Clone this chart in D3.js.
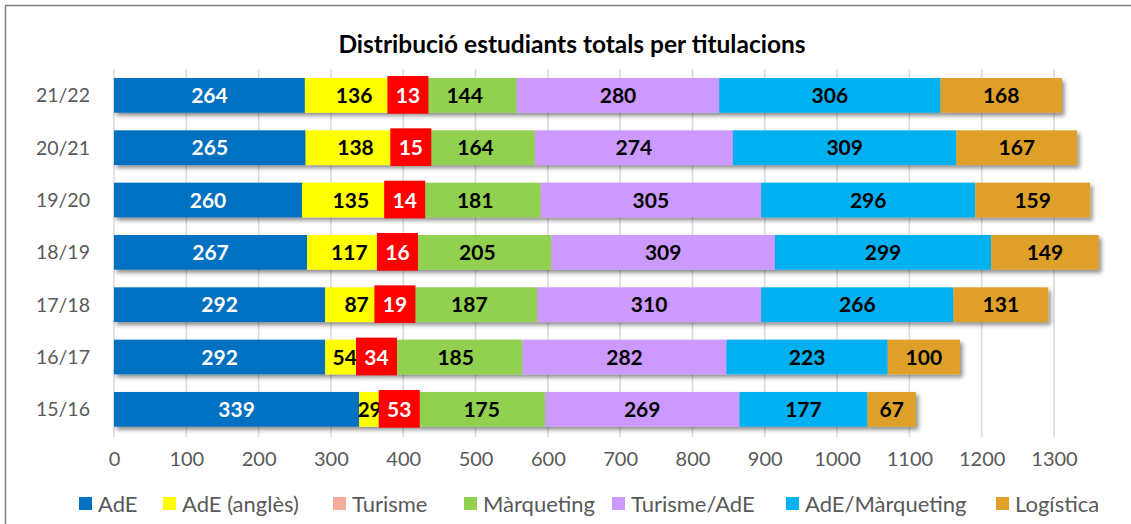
<!DOCTYPE html>
<html><head><meta charset="utf-8">
<script src="https://cdn.jsdelivr.net/npm/d3@7"></script>
<style>html,body{margin:0;padding:0;background:#fff;}svg{display:block;}</style>
</head><body>
<svg id="c" width="1131" height="524"></svg>
<script>
const years = ["21/22","20/21","19/20","18/19","17/18","16/17","15/16"];
const seriesNames = ["AdE","AdE (anglès)","Turisme","Màrqueting","Turisme/AdE","AdE/Màrqueting","Logística"];
const adE        = [264,265,260,267,292,292,339];
const adEAngles  = [136,138,135,117,87,54,29];
const turisme    = [13,15,14,16,19,34,53];
const marqueting = [144,164,181,205,187,185,175];
const turismeAdE = [280,274,305,309,310,282,269];
const adEMarq    = [306,309,296,299,266,223,177];
const logistica  = [168,167,159,149,131,100,67];
const xTicks = [0,100,200,300,400,500,600,700,800,900,1000,1100,1200,1300];

const seriesValues = [adE, adEAngles, turisme, marqueting, turismeAdE, adEMarq, logistica];
const colors = ["#0070C0","#FFFF00","#F2AE9A","#92D050","#CC99FF","#00B0F0","#DFA02A"];
const labelColors = ["#fff","#000","#fff","#000","#000","#000","#000"];

const svg = d3.select("#c");
const defs = svg.append("defs");
const f = defs.append("filter").attr("id","sh").attr("x","-5%").attr("y","-30%").attr("width","115%").attr("height","180%");
f.append("feDropShadow").attr("dx",2.5).attr("dy",3).attr("stdDeviation",2).attr("flood-color","#000").attr("flood-opacity",0.45);

// chart border
svg.append("rect").attr("x",5.5).attr("y",5.5).attr("width",1140).attr("height",540)
  .attr("fill","none").attr("stroke","#7f7f7f").attr("stroke-width",1.5);

const font = "Lato, 'Open Sans', sans-serif";

svg.append("text").attr("x",572).attr("y",53).attr("text-anchor","middle")
  .attr("font-family",font).attr("font-weight","bold").attr("font-size",24.5).attr("fill","#000")
  .text("Distribució estudiants totals per titulacions");

const x = d3.scaleLinear().domain([0,1300]).range([114,1054]);
const y = d3.scaleBand().domain(years).range([69.2,435.5]).paddingInner(0.337).paddingOuter(0.1685);

// gridlines
svg.append("g").selectAll("line").data(xTicks).join("line")
  .attr("x1",d=>x(d)).attr("x2",d=>x(d)).attr("y1",69).attr("y2",437)
  .attr("stroke","#d9d9d9").attr("stroke-width",1.5);

// stack
const rows = years.map((yr,i)=>{ const o={year:yr}; seriesNames.forEach((s,j)=>o[s]=seriesValues[j][i]); return o; });
const stack = d3.stack().keys(seriesNames)(rows);

const barsG = svg.append("g").attr("filter","url(#sh)");
stack.forEach((layer,j)=>{
  barsG.selectAll(null).data(layer).join("rect")
    .attr("x",d=>x(d[0])).attr("width",d=>x(d[1])-x(d[0]))
    .attr("y",d=>y(d.data.year)).attr("height",y.bandwidth())
    .attr("fill",colors[j]);
});

// labels
const lg = svg.append("g").attr("font-family",font).attr("font-weight","bold").attr("font-size",21);
stack.forEach((layer,j)=>{
  layer.forEach(d=>{
    const cx = (x(d[0])+x(d[1]))/2;
    const cy = y(d.data.year)+y.bandwidth()/2;
    const v = d[1]-d[0];
    if (j===2){
      const w = 41;
      lg.append("rect").attr("x",cx-w/2).attr("y",y(d.data.year)-2).attr("width",w).attr("height",y.bandwidth()+3).attr("fill","#FF0000");
    }
    lg.append("text").attr("x",cx).attr("y",cy).attr("dy","0.36em").attr("text-anchor","middle")
      .attr("fill",labelColors[j]).text(v);
  });
});

// y labels
svg.append("g").selectAll("text").data(years).join("text")
  .attr("x",90).attr("y",d=>y(d)+y.bandwidth()/2).attr("dy","0.36em").attr("text-anchor","end")
  .attr("font-family",font).attr("font-size",19.5).attr("fill","#595959").text(d=>d);

// x axis tick labels
const ax = svg.append("g").attr("transform","translate(0,452)")
  .call(d3.axisBottom(x).tickValues(xTicks).tickSize(0).tickPadding(0).tickFormat(d3.format("d")));
ax.select(".domain").remove();
ax.selectAll("text").attr("font-family",font).attr("font-size",20).attr("fill","#595959");

// legend
const legX = [79,163,333,464,612,786,996];
const lgd = svg.append("g");
seriesNames.forEach((s,j)=>{
  lgd.append("rect").attr("x",legX[j]).attr("y",497).attr("width",13).attr("height",13).attr("fill",colors[j]);
  lgd.append("text").attr("x",legX[j]+19).attr("y",504).attr("dy","0.36em")
    .attr("font-family",font).attr("font-size",22).attr("fill","#595959").text(s);
});
</script>
</body></html>
